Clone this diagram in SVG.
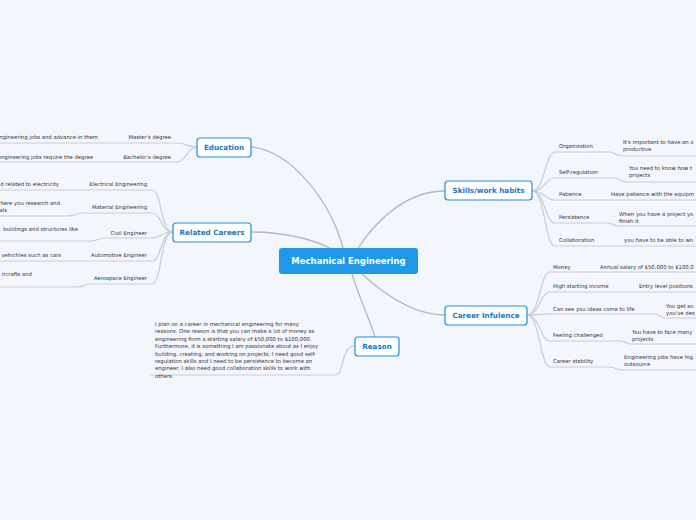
<svg xmlns="http://www.w3.org/2000/svg" width="696" height="520" viewBox="0 0 696 520">
<style>
.l{fill:none;stroke:#c9ccd3;stroke-width:1.2}
.m{fill:none;stroke:#b4b8c0;stroke-width:1.3}
.t{font-family:"DejaVu Sans",Verdana,sans-serif;font-size:5.3px;fill:#333}
.n rect{fill:#fff;stroke:#1d8ee6;stroke-width:1.2}
.n text{font-family:"DejaVu Sans",Verdana,sans-serif;font-size:7.2px;font-weight:bold;fill:#1878c8;text-anchor:middle}
</style>
<rect width="696" height="520" fill="#f3f6fd"/>
<g id="connectors">
<path class="m" d="M343 248 C330 200 290 150 251 147"/>
<path class="m" d="M330 248 C310 238 280 232 251 232"/>
<path class="m" d="M352 274 C360 300 370 320 375 337"/>
<path class="m" d="M358 248 C380 215 410 191 445 191"/>
<path class="m" d="M362 274 C385 295 415 315 445 315"/>
<path class="l" d="M197 147 C188 147 185 143 178 143 L0 143"/>
<path class="l" d="M197 147 C188 147 185 162 178 162 L0 162"/>
<path class="l" d="M173 232 C160 232 162 190 152 190 L0 190"/>
<path class="l" d="M173 232 C160 232 162 213 152 213 L82 213 C75 213 75 216 68 216 L0 216"/>
<path class="l" d="M173 232 C160 232 162 238 152 238 L105 238 C98 238 98 241 91 241 L0 241"/>
<path class="l" d="M173 232 C160 232 162 261 152 261 L0 261"/>
<path class="l" d="M173 232 C160 232 162 284 152 284 L90 284 C84 284 84 287 78 287 L0 287"/>
<path class="l" d="M355 346 C340 346 345 375 335 375 L150 375"/>
<path class="l" d="M532 191 C545 191 545 152 555 152 L610 152 C615 152 615 156 622 156 L696 156"/>
<path class="l" d="M532 191 C545 191 545 178 555 178 L615 178 C620 178 620 182 627 182 L696 182"/>
<path class="l" d="M532 191 C545 191 545 200 555 200 L696 200"/>
<path class="l" d="M532 191 C545 191 545 223 555 223 L608 223 C613 223 613 226 619 226 L696 226"/>
<path class="l" d="M532 191 C545 191 545 246 555 246 L696 246"/>
<path class="l" d="M527 315 C540 315 540 272 550 272 L696 272"/>
<path class="l" d="M527 315 C540 315 540 292 550 292 L696 292"/>
<path class="l" d="M527 315 C540 315 540 314 550 314 L655 314 C660 314 660 318 666 318 L696 318"/>
<path class="l" d="M527 315 C540 315 540 341 550 341 L620 341 C625 341 625 344 631 344 L696 344"/>
<path class="l" d="M527 315 C540 315 540 367 550 367 L610 367 C615 367 615 370 622 370 L696 370"/>
</g>
<g id="central"><rect x="279" y="248" width="139" height="26" rx="3" fill="#1f98e8"/><text x="348.5" y="264" font-family="DejaVu Sans,Verdana,sans-serif" font-size="8.5" font-weight="bold" fill="#fff" text-anchor="middle">Mechanical Engineering</text></g>
<g id="education" class="n"><rect x="197" y="138" width="54" height="19" rx="3"/><text x="224" y="150">Education</text></g>
<g id="related" class="n"><rect x="173" y="223" width="78" height="19" rx="3"/><text x="212" y="235">Related Careers</text></g>
<g id="reason" class="n"><rect x="355" y="337" width="44" height="19" rx="3"/><text x="377" y="349">Reason</text></g>
<g id="skills" class="n"><rect x="445" y="181" width="87" height="19" rx="3"/><text x="488.5" y="193">Skills/work habits</text></g>
<g id="career" class="n"><rect x="445" y="306" width="82" height="19" rx="3"/><text x="486" y="318">Career Infulence</text></g>
<g id="leaves" class="t">
<text x="171" y="139" text-anchor="end">Master's degree</text>
<text x="98" y="139" text-anchor="end">engineering jobs and advance in them</text>
<text x="171" y="159" text-anchor="end">Bachelor's degree</text>
<text x="93" y="159" text-anchor="end">engineering jobs require the degree</text>
<text x="147" y="186" text-anchor="end">Electrical Engineering</text>
<text x="59" y="186" text-anchor="end">d related to electricity</text>
<text x="147" y="209" text-anchor="end">Material Engineering</text>
<text x="60" y="205" text-anchor="end">here you research and</text>
<text x="7" y="212" text-anchor="end">als</text>
<text x="147" y="235" text-anchor="end">Civil Engineer</text>
<text x="78" y="231" text-anchor="end">buildings and structures like</text>
<text x="147" y="257" text-anchor="end">Automotive Engineer</text>
<text x="61" y="257" text-anchor="end">vehichles such as cars</text>
<text x="147" y="280" text-anchor="end">Aerospace Engineer</text>
<text x="32" y="276" text-anchor="end">ircrafts and</text>
<text x="559" y="148">Organization</text>
<text x="623" y="144">It's important to have an o</text>
<text x="623" y="151">productive</text>
<text x="559" y="174">Self-regulation</text>
<text x="629" y="170">You need to know how t</text>
<text x="629" y="177">projects</text>
<text x="559" y="196">Patience</text>
<text x="611" y="196">Have patience with the equipm</text>
<text x="559" y="219">Persistence</text>
<text x="619" y="216">When you have a project yo</text>
<text x="619" y="223">finish it</text>
<text x="559" y="242">Collaboration</text>
<text x="624" y="242">you have to be able to wo</text>
<text x="553" y="269">Money</text>
<text x="600" y="269">Annual salary of $50,000 to $100,0</text>
<text x="553" y="288">High starting income</text>
<text x="639" y="288">Entry level positions</text>
<text x="553" y="311">Can see you ideas come to life</text>
<text x="666" y="308">You get so</text>
<text x="666" y="315">you've des</text>
<text x="553" y="337">Feeling challenged</text>
<text x="632" y="334">You have to face many</text>
<text x="632" y="341">projects</text>
<text x="553" y="363">Career stability</text>
<text x="624" y="359">Engineering jobs have hig</text>
<text x="624" y="366">outsource</text>
<text x="155" y="326">I plan on a career in mechanical engineering for many</text>
<text x="155" y="333.4">reasons. One reason is that you can make a lot of money as</text>
<text x="155" y="340.8">engineering from a starting salary of $50,000 to $100,000.</text>
<text x="155" y="348.2">Furthermore, it is something I am passionate about as I enjoy</text>
<text x="155" y="355.6">building, creating, and working on projects. I need good self-</text>
<text x="155" y="363">regulation skills and I need to be persistence to become an</text>
<text x="155" y="370.4">engineer. I also need good collaboration skills to work with</text>
<text x="155" y="377.8">others.</text>
</g>
</svg>
